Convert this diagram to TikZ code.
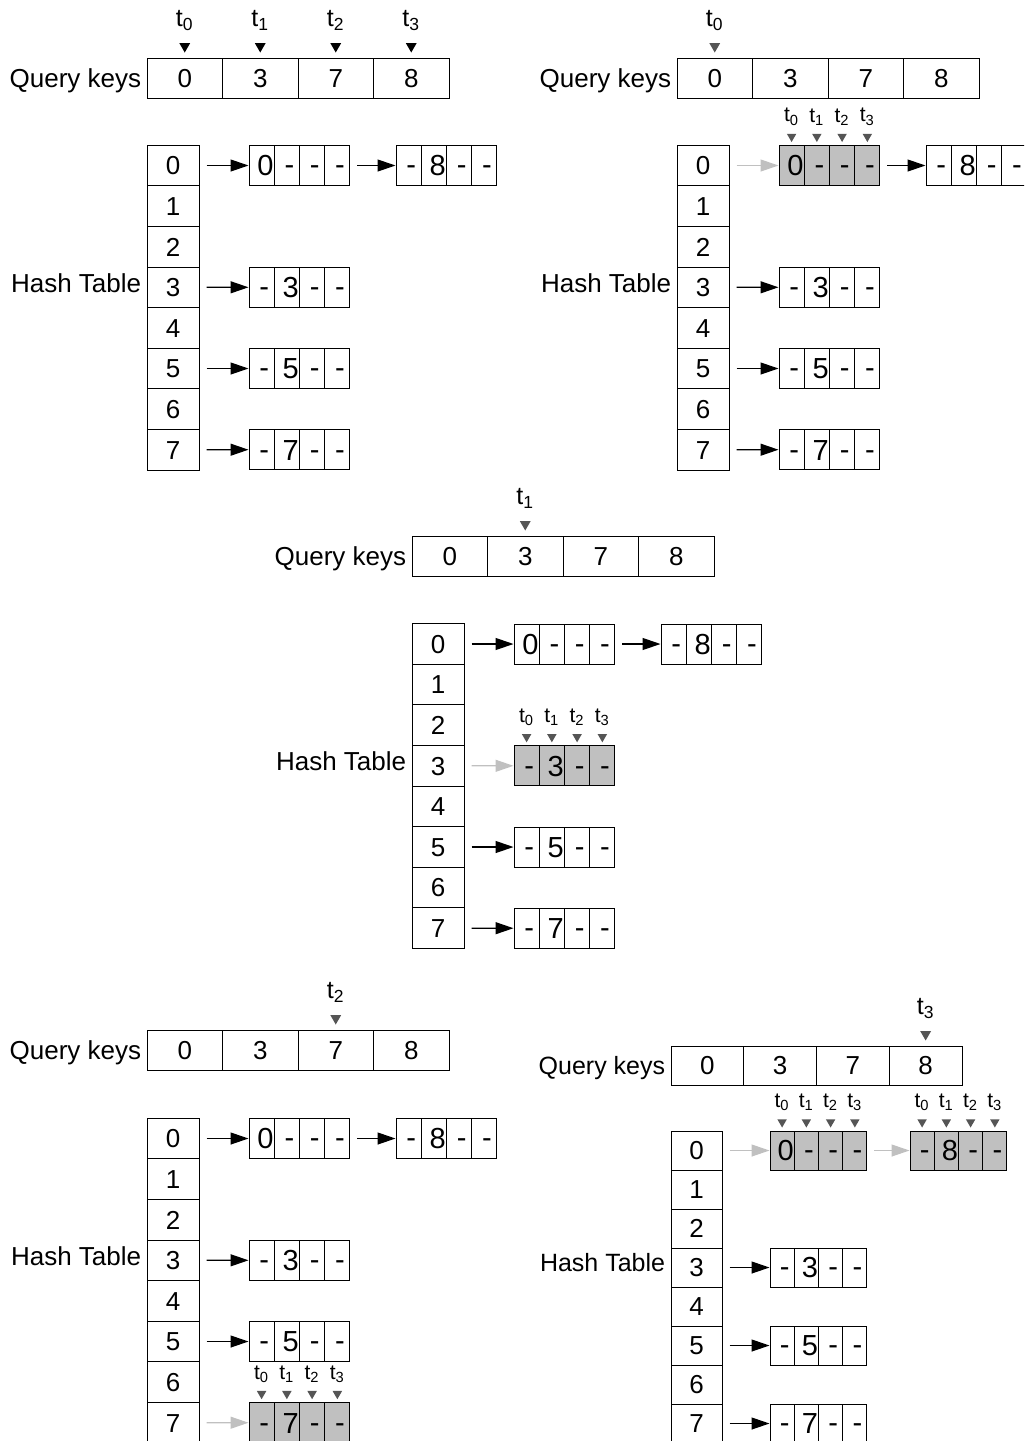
\documentclass[tikz,border=0pt]{standalone}
\usepackage{fontspec}
\setmainfont{Liberation Sans}
\usetikzlibrary{positioning,arrows.meta,shapes.geometric}
\definecolor{HotFill}{RGB}{192,192,192}
\definecolor{SoftLink}{RGB}{192,192,192}
\definecolor{PointerGray}{RGB}{85,85,85}
\tikzset{
  key cell/.style={
    draw,
    line width=0.5pt,
    minimum width=37.75pt,
    minimum height=20pt,
    inner sep=0pt,
    text height=9.3pt,
    text depth=0pt,
    font=\fontsize{13}{13}\selectfont
  },
  slot cell/.style={key cell, minimum width=26pt, minimum height=20.3pt},
  entry cell/.style={key cell, minimum width=12.6pt, minimum height=20pt,
    font=\fontsize{14.5}{14.5}\selectfont},
  key entry/.style={text height=10.4pt, text width=12pt, align=right},
  hot/.style={fill=HotFill},
  side label/.style={inner sep=0pt, text depth=0pt, font=\fontsize{13}{13}\selectfont},
  pointer/.style={regular polygon, regular polygon sides=3, shape border rotate=180,
    fill=black, minimum size=6.3pt, inner sep=0pt, outer sep=0pt},
  pointer soft/.style={pointer, fill=PointerGray},
  pointer small/.style={pointer soft, minimum size=5.5pt},
  big t/.style={inner sep=0pt, font=\fontsize{12.5}{12.5}\selectfont},
  small t/.style={inner sep=0pt, font=\fontsize{10.5}{10.5}\selectfont},
  link/.style={-{Triangle[length=9pt,width=6pt]}, line width=0.6pt, shorten <=3.5pt},
  link soft/.style={link, color=SoftLink}
}
% one bucket of four entries, cells named <name>0..3; entry #6 holds key #7
\newcommand\bucket[7][]{%
  \foreach \j in {0,...,3}{
    \ifnum\j=#6\relax
      \node[entry cell,key entry,#1] (#2\j) at ({#3+#5*\j},#4) {#7};
    \else
      \node[entry cell,#1] (#2\j) at ({#3+#5*\j},#4) {\hspace*{2.5pt}-};
    \fi}}
% t0..t3 markers over the cells of a bucket
\newcommand\threads[1]{%
  \foreach \j in {0,...,3}{
    \node[pointer small, above=1.5pt of #1\j] (#1p\j) {};
    \node[small t, above=4pt of #1p\j] (#1t\j) {t\textsubscript{\j}};}}

\begin{document}
\begin{tikzpicture}[x=0.5pt,y=-0.5pt]
\useasboundingbox (0,0) rectangle (1024,1441);
\clip (0,0) rectangle (1024,1441);

% panel 1: all threads
\foreach \k [count=\i from 0] in {0,3,7,8}
  \node[key cell] (p1q\i) at ({184.75+75.5*\i},78) {\k};
\node[side label, left=2.5pt of p1q0] (p1ql) {Query keys};
\foreach \i in {0,...,3}{
  \node[pointer, above=2.5pt of p1q\i] (p1qp\i) {};
  \node[big t, above=6pt of p1qp\i] (p1qt\i) {t\textsubscript{\i}};}
\foreach \i in {0,...,7}
  \node[slot cell] (p1h\i) at (173,{165.5+40.6*\i}) {\i};
\node[side label, left=2.5pt of p1h3, yshift=2pt] (p1hl) {Hash Table};
\bucket{p1r0a}{261.6}{165.5}{25.25}{0}{0}
\bucket{p1r0b}{408.6}{165.5}{25.25}{1}{8}
\bucket{p1r3a}{261.6}{287.3}{25.25}{1}{3}
\bucket{p1r5a}{261.6}{368.5}{25.25}{1}{5}
\bucket{p1r7a}{261.6}{449.7}{25.25}{1}{7}
\draw[link] (p1h0) -- (p1r0a0);
\draw[link] (p1r0a3) -- (p1r0b0);
\draw[link] (p1h3) -- (p1r3a0);
\draw[link] (p1h5) -- (p1r5a0);
\draw[link] (p1h7) -- (p1r7a0);

% panel 2: t0 on key 0
\foreach \k [count=\i from 0] in {0,3,7,8}
  \node[key cell] (p2q\i) at ({714.75+75.5*\i},78) {\k};
\node[side label, left=2.5pt of p2q0] (p2ql) {Query keys};
\node[pointer soft, above=2.5pt of p2q0] (p2qp0) {};
\node[big t, above=6pt of p2qp0] (p2qt0) {t\textsubscript{0}};
\foreach \i in {0,...,7}
  \node[slot cell] (p2h\i) at (703,{165.5+40.6*\i}) {\i};
\node[side label, left=2.5pt of p2h3, yshift=2pt] (p2hl) {Hash Table};
\bucket[hot]{p2r0a}{791.6}{165.5}{25.25}{0}{0}
\bucket{p2r0b}{938.6}{165.5}{25.25}{1}{8}
\bucket{p2r3a}{791.6}{287.3}{25.25}{1}{3}
\bucket{p2r5a}{791.6}{368.5}{25.25}{1}{5}
\bucket{p2r7a}{791.6}{449.7}{25.25}{1}{7}
\threads{p2r0a}
\draw[link soft] (p2h0) -- (p2r0a0);
\draw[link] (p2r0a3) -- (p2r0b0);
\draw[link] (p2h3) -- (p2r3a0);
\draw[link] (p2h5) -- (p2r5a0);
\draw[link] (p2h7) -- (p2r7a0);

% panel 3: t1 on key 3
\foreach \k [count=\i from 0] in {0,3,7,8}
  \node[key cell] (p3q\i) at ({449.75+75.5*\i},556) {\k};
\node[side label, left=2.5pt of p3q0] (p3ql) {Query keys};
\node[pointer soft, above=2.5pt of p3q1] (p3qp1) {};
\node[big t, above=6pt of p3qp1] (p3qt1) {t\textsubscript{1}};
\foreach \i in {0,...,7}
  \node[slot cell] (p3h\i) at (438,{644+40.6*\i}) {\i};
\node[side label, left=2.5pt of p3h3, yshift=2.3pt] (p3hl) {Hash Table};
\bucket{p3r0a}{526.6}{644}{25.25}{0}{0}
\bucket{p3r0b}{673.6}{644}{25.25}{1}{8}
\bucket[hot]{p3r3a}{526.6}{765.8}{25.25}{1}{3}
\bucket{p3r5a}{526.6}{847}{25.25}{1}{5}
\bucket{p3r7a}{526.6}{928.2}{25.25}{1}{7}
\threads{p3r3a}
\draw[link] (p3h0) -- (p3r0a0);
\draw[link] (p3r0a3) -- (p3r0b0);
\draw[link soft] (p3h3) -- (p3r3a0);
\draw[link] (p3h5) -- (p3r5a0);
\draw[link] (p3h7) -- (p3r7a0);

% panel 4: t2 on key 7
\foreach \k [count=\i from 0] in {0,3,7,8}
  \node[key cell] (p4q\i) at ({184.75+75.5*\i},1050) {\k};
\node[side label, left=2.5pt of p4q0] (p4ql) {Query keys};
\node[pointer soft, above=2.5pt of p4q2] (p4qp2) {};
\node[big t, above=6pt of p4qp2] (p4qt2) {t\textsubscript{2}};
\foreach \i in {0,...,7}
  \node[slot cell] (p4h\i) at (173,{1138.5+40.6*\i}) {\i};
\node[side label, left=2.5pt of p4h3, yshift=2.3pt] (p4hl) {Hash Table};
\bucket{p4r0a}{261.6}{1138.5}{25.25}{0}{0}
\bucket{p4r0b}{408.6}{1138.5}{25.25}{1}{8}
\bucket{p4r3a}{261.6}{1260.3}{25.25}{1}{3}
\bucket{p4r5a}{261.6}{1341.5}{25.25}{1}{5}
\bucket[hot]{p4r7a}{261.6}{1422.7}{25.25}{1}{7}
\threads{p4r7a}
\draw[link] (p4h0) -- (p4r0a0);
\draw[link] (p4r0a3) -- (p4r0b0);
\draw[link] (p4h3) -- (p4r3a0);
\draw[link] (p4h5) -- (p4r5a0);
\draw[link soft] (p4h7) -- (p4r7a0);

% panel 5: t3 on key 8, a bit smaller
\begin{scope}[
  key cell/.append style={minimum width=36.4pt, minimum height=19.5pt},
  slot cell/.append style={minimum width=25.5pt, minimum height=19.5pt},
  entry cell/.append style={minimum width=12.1pt, minimum height=19.5pt},
  key entry/.append style={text width=11.6pt},
  side label/.append style={font=\fontsize{12.5}{12.5}\selectfont}]
\foreach \k [count=\i from 0] in {0,3,7,8}
  \node[key cell] (p5q\i) at ({707.4+72.75*\i},1065.5) {\k};
\node[side label, left=2.5pt of p5q0] (p5ql) {Query keys};
\node[pointer soft, above=2.5pt of p5q3] (p5qp3) {};
\node[big t, above=6pt of p5qp3] (p5qt3) {t\textsubscript{3}};
\foreach \i in {0,...,7}
  \node[slot cell] (p5h\i) at (696.5,{1150.5+39*\i}) {\i};
\node[side label, left=2.5pt of p5h3, yshift=2.3pt] (p5hl) {Hash Table};
\bucket[hot]{p5r0a}{782.1}{1150.5}{24.25}{0}{0}
\bucket[hot]{p5r0b}{922.1}{1150.5}{24.25}{1}{8}
\bucket{p5r3a}{782.1}{1267.5}{24.25}{1}{3}
\bucket{p5r5a}{782.1}{1345.5}{24.25}{1}{5}
\bucket{p5r7a}{782.1}{1423.5}{24.25}{1}{7}
\threads{p5r0a}
\threads{p5r0b}
\draw[link soft] (p5h0) -- (p5r0a0);
\draw[link soft] (p5r0a3) -- (p5r0b0);
\draw[link] (p5h3) -- (p5r3a0);
\draw[link] (p5h5) -- (p5r5a0);
\draw[link] (p5h7) -- (p5r7a0);
\end{scope}
\end{tikzpicture}
\end{document}
